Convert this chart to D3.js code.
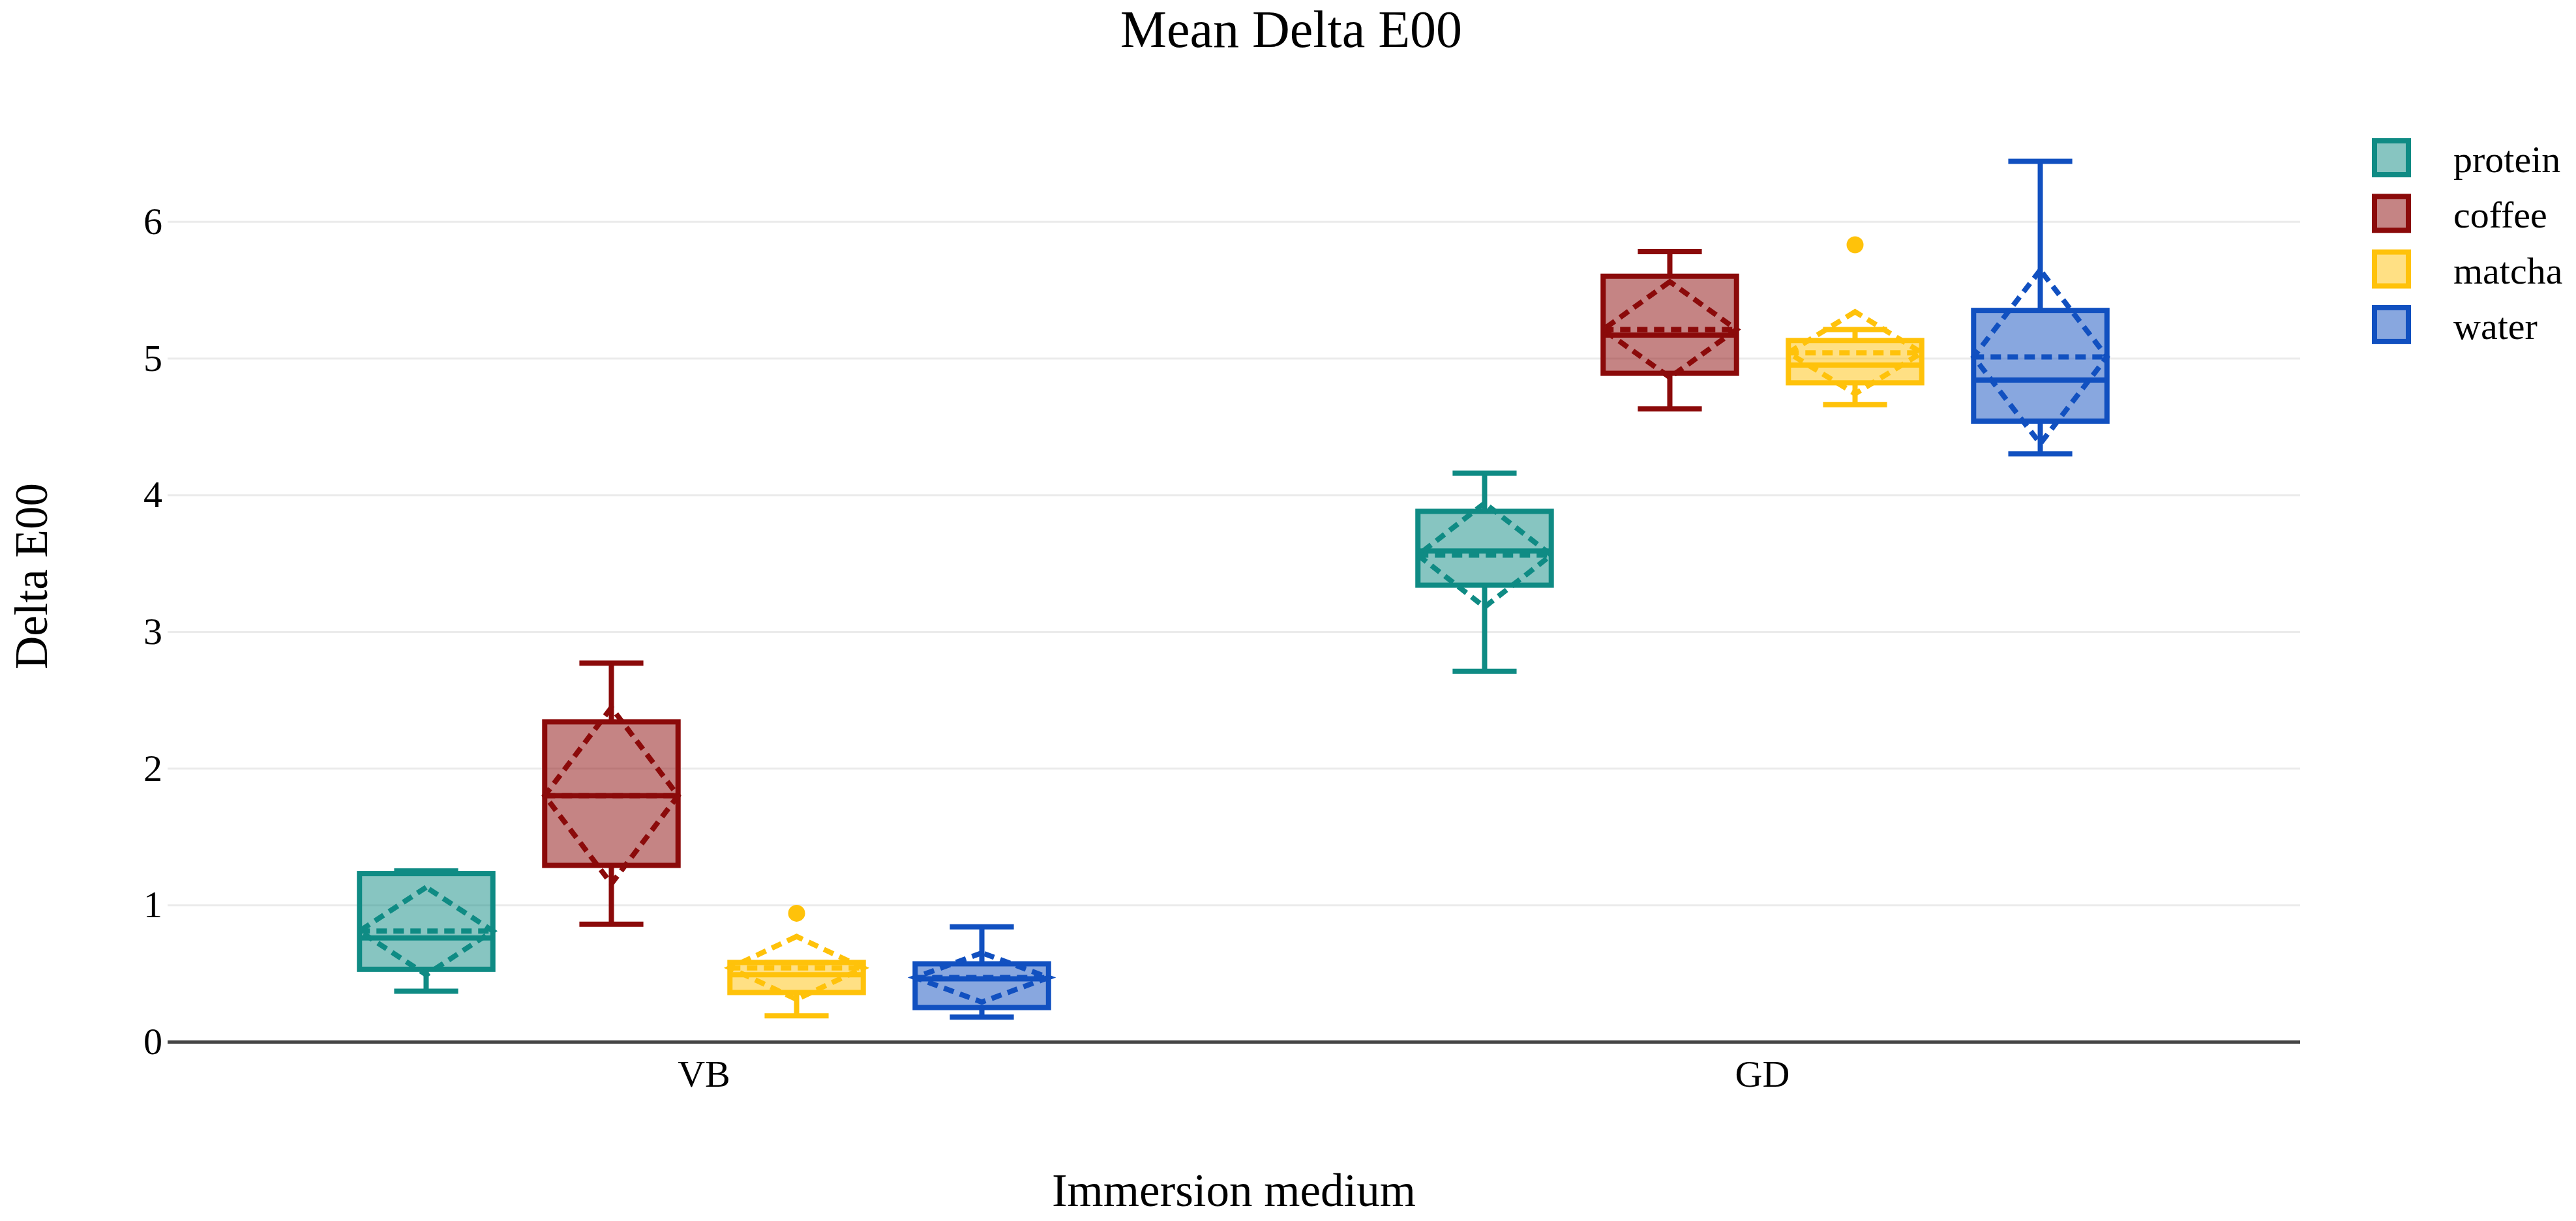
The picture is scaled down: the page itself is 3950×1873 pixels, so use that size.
<!DOCTYPE html>
<html>
<head>
<meta charset="utf-8">
<script src="https://cdn.jsdelivr.net/npm/d3@7"></script>
<style>
  body { margin: 0; background: #fff; }
  text { font-family: "Liberation Serif", "Times New Roman", serif; fill: #000; }
</style>
</head>
<body>
<div id="chart"></div>
<script>
// Box plots of Delta E00 by immersion medium, grouped by staining solution

const categories = ["VB", "GD"];
const seriesNames = ["protein", "coffee", "matcha", "water"];
const yTicks = [0, 1, 2, 3, 4, 5, 6];

// one row per series, one value per category (VB, GD)
const lowerFence = [[0.37, 2.71], [0.86, 4.63], [0.19, 4.66], [0.18, 4.30]];
const q1         = [[0.53, 3.34], [1.29, 4.89], [0.36, 4.82], [0.25, 4.54]];
const medians    = [[0.76, 3.59], [1.80, 5.17], [0.49, 4.95], [0.46, 4.84]];
const q3         = [[1.23, 3.88], [2.34, 5.60], [0.58, 5.13], [0.57, 5.35]];
const upperFence = [[1.25, 4.16], [2.77, 5.78], [0.58, 5.21], [0.84, 6.44]];
const means      = [[0.81, 3.56], [1.80, 5.21], [0.54, 5.04], [0.47, 5.01]];
const sds        = [[0.32, 0.38], [0.645, 0.35], [0.23, 0.30], [0.18, 0.635]];
const outliers   = [[[], []], [[], []], [[0.94], [5.83]], [[], []]];

const colors = ["#0f8b84", "#8b0a0a", "#ffc20a", "#1150c0"];

const width = 3950,
    height = 1873,
    margin = ({top: 170, right: 423, bottom: 275, left: 257});

const svg = d3.select("#chart")
    .append("svg")
    .attr("width", width)
    .attr("height", height)
    .attr("viewBox", [0, 0, width, height]);

// X - immersion medium
const x = d3.scaleBand()
    .domain(categories)
    .range([268, 3514]);

// offsets of the four boxes inside a category
const xs = d3.scaleBand()
    .domain(seriesNames)
    .range([-0.35 * x.bandwidth(), 0.35 * x.bandwidth()])
    .paddingInner(0.28)
    .paddingOuter(0.14);

// Y - Delta E00
const y = d3.scaleLinear()
    .domain([0, 6.81])
    .range([height - margin.bottom, margin.top]);

// grid lines
const yAxis = g => g
    .attr("transform", `translate(${margin.left},0)`)
    .call(d3.axisLeft(y).tickValues(yTicks).tickFormat(d3.format("d"))
        .tickSize(-(width - margin.right - margin.left)).tickPadding(8))
    .call(g => g.select(".domain").remove())
    .call(g => g.selectAll(".tick line")
        .attr("stroke", d => d === 0 ? "#444" : "#ebebeb")
        .attr("stroke-width", d => d === 0 ? 5 : 3))
    .call(g => g.selectAll(".tick text")
        .attr("font-size", 58)
        .attr("font-family", "Liberation Serif"));

svg.append("g").call(yAxis);

const xAxis = g => g
    .attr("transform", `translate(0,${height - margin.bottom})`)
    .call(d3.axisBottom(x).tickSize(0).tickPadding(28))
    .call(g => g.select(".domain").remove())
    .call(g => g.selectAll(".tick text")
        .attr("font-size", 58)
        .attr("font-family", "Liberation Serif"));

svg.append("g").call(xAxis);

// build the boxes
const boxes = [];
seriesNames.forEach((s, i) => {
    categories.forEach((c, j) => {
        boxes.push({
            s, i, c,
            lf: lowerFence[i][j], q1: q1[i][j], med: medians[i][j],
            q3: q3[i][j], uf: upperFence[i][j],
            mean: means[i][j], sd: sds[i][j], out: outliers[i][j]
        });
    });
});

const bw = xs.bandwidth();
const lw = 8;

const box = svg.selectAll(".box")
    .data(boxes)
    .join("g")
    .attr("class", "box")
    .attr("transform", d => `translate(${x(d.c) + x.bandwidth() / 2 + xs(d.s)},0)`);

box.append("rect")
    .attr("x", 0)
    .attr("width", bw)
    .attr("y", d => y(d.q3))
    .attr("height", d => y(d.q1) - y(d.q3))
    .attr("fill", d => colors[d.i])
    .attr("fill-opacity", 0.5)
    .attr("stroke", d => colors[d.i])
    .attr("stroke-width", lw);

// median
box.append("line")
    .attr("x1", 0).attr("x2", bw)
    .attr("y1", d => y(d.med)).attr("y2", d => y(d.med))
    .attr("stroke", d => colors[d.i])
    .attr("stroke-width", lw);

// whiskers
box.append("path")
    .attr("fill", "none")
    .attr("stroke", d => colors[d.i])
    .attr("stroke-width", lw)
    .attr("d", d => {
        const cx = bw / 2, cap = bw * 0.24;
        return `M${cx},${y(d.q3)}V${y(d.uf)}M${cx - cap},${y(d.uf)}H${cx + cap}` +
               `M${cx},${y(d.q1)}V${y(d.lf)}M${cx - cap},${y(d.lf)}H${cx + cap}`;
    });

// mean line and sd diamond
box.append("path")
    .attr("fill", "none")
    .attr("stroke", d => colors[d.i])
    .attr("stroke-width", lw)
    .attr("stroke-dasharray", "16,10")
    .attr("d", d => {
        const cx = bw / 2;
        return `M0,${y(d.mean)}H${bw}` +
               `M${cx},${y(d.mean + d.sd)}L0,${y(d.mean)}L${cx},${y(d.mean - d.sd)}L${bw},${y(d.mean)}Z`;
    });

// outliers
box.selectAll("circle")
    .data(d => d.out.map(v => ({v, i: d.i})))
    .join("circle")
    .attr("cx", bw / 2)
    .attr("cy", d => y(d.v))
    .attr("r", 13)
    .attr("fill", d => colors[d.i]);

// legend
const legend = svg.append("g")
    .attr("transform", "translate(3637,212)");

const item = legend.selectAll("g")
    .data(seriesNames)
    .join("g")
    .attr("transform", (d, i) => `translate(0,${i * 85.3})`);

item.append("rect")
    .attr("x", 4).attr("y", 4)
    .attr("width", 52).attr("height", 52)
    .attr("fill", (d, i) => colors[i])
    .attr("fill-opacity", 0.5)
    .attr("stroke", (d, i) => colors[i])
    .attr("stroke-width", 8);

item.append("text")
    .attr("x", 125)
    .attr("y", 52)
    .attr("font-size", 58)
    .text(d => d);

// titles
svg.append("text")
    .attr("x", 1980)
    .attr("y", 72)
    .attr("text-anchor", "middle")
    .attr("font-size", 80)
    .text("Mean Delta E00");

svg.append("text")
    .attr("x", 1892)
    .attr("y", 1850)
    .attr("text-anchor", "middle")
    .attr("font-size", 71)
    .text("Immersion medium");

svg.append("text")
    .attr("transform", "translate(72,884) rotate(-90)")
    .attr("text-anchor", "middle")
    .attr("font-size", 71)
    .text("Delta E00");
</script>
</body>
</html>
